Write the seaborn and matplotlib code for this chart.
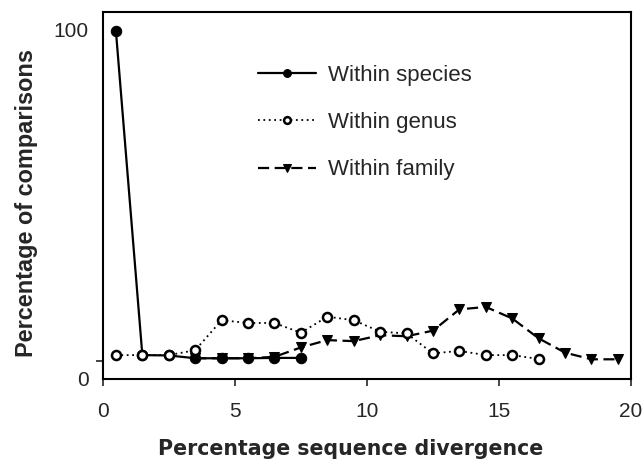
import numpy as np
import pandas as pd
import matplotlib
matplotlib.use("Agg")
import matplotlib.pyplot as plt
import seaborn as sns

# bin centres (percentage sequence divergence)
species_x = [0.5, 1.5, 2.5, 3.5, 4.5, 5.5, 6.5, 7.5]
species_y = [99.5, 6.7, 6.6, 5.8, 5.8, 5.8, 5.9, 5.9]

genus_x = [0.5, 1.5, 2.5, 3.5, 4.5, 5.5, 6.5, 7.5, 8.5, 9.5,
           10.5, 11.5, 12.5, 13.5, 14.5, 15.5, 16.5]
genus_y = [6.7, 6.7, 6.7, 8.1, 16.7, 15.9, 15.9, 13.1, 17.7, 16.7,
           13.4, 12.9, 7.2, 7.9, 6.7, 6.7, 5.6]

family_x = [3.5, 4.5, 5.5, 6.5, 7.5, 8.5, 9.5, 10.5, 11.5, 12.5,
            13.5, 14.5, 15.5, 16.5, 17.5, 18.5, 19.5]
family_y = [5.8, 5.8, 5.8, 6.2, 8.9, 11.0, 10.7, 12.4, 12.1, 13.7,
            19.8, 20.5, 17.2, 11.5, 7.4, 5.5, 5.5]

x_ticks = [0, 5, 10, 15, 20]
y_ticks = [0, 100]

sns.set_style("white")
plt.rcParams["font.family"] = ["Liberation Sans", "DejaVu Sans"]

fig = plt.figure(figsize=(6.44, 4.67), dpi=100)
ax = fig.add_axes([0.1595, 0.1895, 0.8205, 0.785])

family = pd.DataFrame({"x": family_x, "y": family_y})
species = pd.DataFrame({"x": species_x, "y": species_y})
genus = pd.DataFrame({"x": genus_x, "y": genus_y})

# family first, genus last so the open circles sit on top
sns.lineplot(data=family, x="x", y="y", ax=ax, color="black", linewidth=1.6,
             linestyle=(0, (5, 2.5)), marker="v", markersize=7.5,
             markerfacecolor="black", markeredgecolor="black",
             label="Within family")
sns.lineplot(data=species, x="x", y="y", ax=ax, color="black", linewidth=1.6,
             marker="o", markersize=7.5, markerfacecolor="black",
             markeredgecolor="black", label="Within species")
sns.lineplot(data=genus, x="x", y="y", ax=ax, color="black", linewidth=1.3,
             linestyle=(0, (1, 2)), marker="o", markersize=6.5,
             markerfacecolor="white", markeredgecolor="black",
             markeredgewidth=1.8, label="Within genus")

ax.set_xlim(0, 20)
ax.set_ylim(0, 105)
ax.set_xticks(x_ticks)
ax.set_yticks(y_ticks)
ax.set_yticks([5], minor=True)
ax.tick_params(axis="x", which="major", direction="out", length=5, width=1.2,
               labelsize=15, pad=12, bottom=True)
ax.tick_params(axis="y", which="major", length=0, labelsize=15, pad=10)
ax.tick_params(axis="y", which="minor", direction="out", length=5, width=1.2,
               left=True)
for side in ["left", "right", "top", "bottom"]:
    ax.spines[side].set_visible(True)
    ax.spines[side].set_color("black")
    ax.spines[side].set_linewidth(1.5)

ax.set_xlabel("Percentage sequence divergence", fontsize=14.8,
              fontweight="bold", family="DejaVu Sans")
ax.set_ylabel("Percentage of comparisons", fontsize=16.9, fontweight="bold")
ax.xaxis.set_label_coords(0.47, -0.165)
ax.yaxis.set_label_coords(-0.1225, 0.4775)

handles, labels = ax.get_legend_handles_labels()
order = [labels.index(n) for n in ["Within species", "Within genus", "Within family"]]
ax.legend([handles[i] for i in order], [labels[i] for i in order],
          loc="upper left", bbox_to_anchor=(0.256, 0.911), frameon=False,
          fontsize=16, handlelength=2.6, labelspacing=1.19,
          handletextpad=0.55, markerscale=0.75)

fig.savefig("out.png", dpi=100)
